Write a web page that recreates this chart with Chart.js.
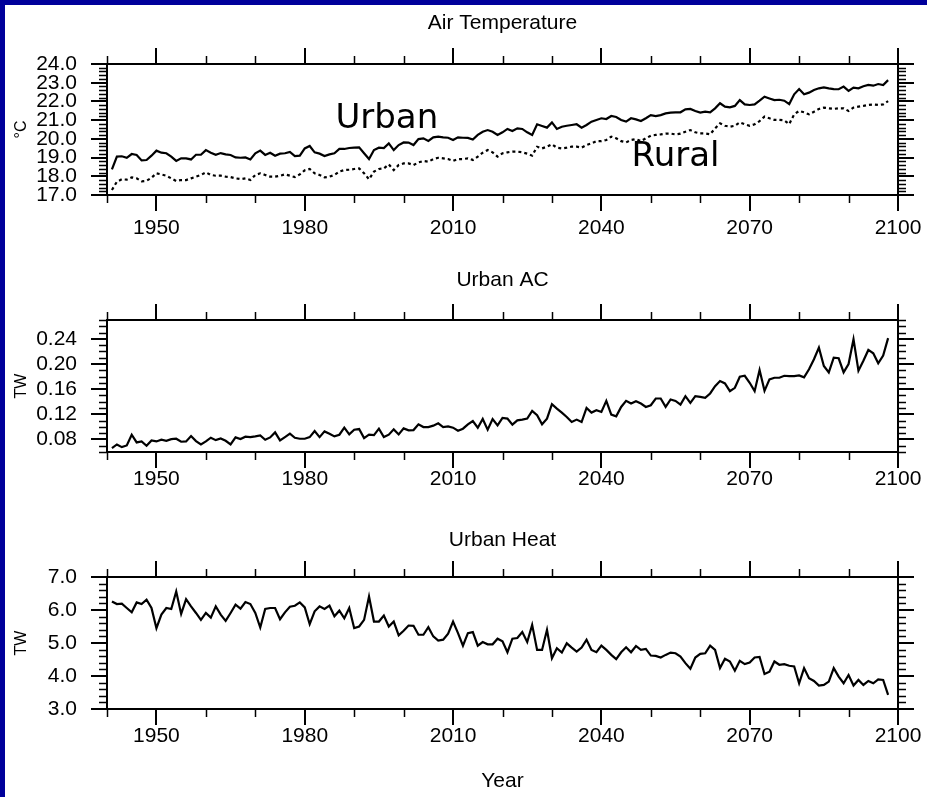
<!DOCTYPE html>
<html><head><meta charset="utf-8">
<script src="https://cdn.jsdelivr.net/npm/chart.js@4.4.1/dist/chart.umd.min.js"></script>
<style>
html,body{margin:0;padding:0;background:#fff;}
#page{position:relative;width:927px;height:797px;background:#fff;overflow:hidden;}
.bt{position:absolute;left:0;top:0;width:927px;height:5px;background:#00009B;}
.bl{position:absolute;left:0;top:0;width:5px;height:797px;background:#00009B;}
canvas{position:absolute;left:0;}
</style></head><body>
<div id="page"><div class="bt"></div><div class="bl"></div>
<canvas id="c1" width="927" height="260" style="top:0px"></canvas>
<canvas id="c2" width="927" height="257" style="top:260px"></canvas>
<canvas id="c3" width="927" height="280" style="top:517px"></canvas>
</div>
<script>
// ---------------- data ----------------
const YEARS = [1941,1942,1943,1944,1945,1946,1947,1948,1949,1950,
1951,1952,1953,1954,1955,1956,1957,1958,1959,1960,
1961,1962,1963,1964,1965,1966,1967,1968,1969,1970,
1971,1972,1973,1974,1975,1976,1977,1978,1979,1980,
1981,1982,1983,1984,1985,1986,1987,1988,1989,1990,
1991,1992,1993,1994,1995,1996,1997,1998,1999,2000,
2001,2002,2003,2004,2005,2006,2007,2008,2009,2010,
2011,2012,2013,2014,2015,2016,2017,2018,2019,2020,
2021,2022,2023,2024,2025,2026,2027,2028,2029,2030,
2031,2032,2033,2034,2035,2036,2037,2038,2039,2040,
2041,2042,2043,2044,2045,2046,2047,2048,2049,2050,
2051,2052,2053,2054,2055,2056,2057,2058,2059,2060,
2061,2062,2063,2064,2065,2066,2067,2068,2069,2070,
2071,2072,2073,2074,2075,2076,2077,2078,2079,2080,
2081,2082,2083,2084,2085,2086,2087,2088,2089,2090,
2091,2092,2093,2094,2095,2096,2097,2098];

const URBAN_TEMP = [18.37,19.05,19.07,18.99,19.19,19.14,18.85,18.87,19.10,19.37,
19.26,19.23,19.05,18.82,18.96,18.96,18.90,19.15,19.15,19.40,
19.26,19.15,19.24,19.17,19.14,19.01,18.99,19.01,18.90,19.23,
19.37,19.14,19.26,19.10,19.21,19.23,19.30,19.08,19.10,19.49,
19.62,19.28,19.21,19.08,19.17,19.23,19.46,19.46,19.51,19.53,
19.55,19.23,18.92,19.40,19.53,19.51,19.76,19.40,19.67,19.81,
19.80,19.67,19.99,20.03,19.89,20.08,20.12,20.08,20.06,19.94,
20.08,20.06,20.05,19.96,20.21,20.38,20.47,20.38,20.21,20.35,
20.53,20.42,20.56,20.53,20.35,20.21,20.78,20.69,20.60,20.88,
20.53,20.65,20.70,20.74,20.78,20.60,20.74,20.92,21.01,21.10,
21.06,21.22,21.17,21.01,20.92,21.10,21.04,20.95,21.10,21.27,
21.22,21.27,21.36,21.40,21.42,21.42,21.58,21.60,21.49,21.40,
21.45,21.42,21.63,21.90,21.72,21.68,21.76,22.07,21.84,21.81,
21.84,22.04,22.25,22.16,22.07,22.09,22.04,21.86,22.38,22.66,
22.38,22.47,22.61,22.70,22.75,22.70,22.66,22.65,22.79,22.56,
22.74,22.70,22.81,22.88,22.84,22.93,22.88,23.14];

const RURAL_TEMP = [17.27,17.71,17.84,17.82,17.94,17.89,17.73,17.76,17.92,18.16,
18.10,18.03,17.89,17.75,17.80,17.80,17.89,17.98,18.07,18.21,
18.07,18.03,18.03,17.98,17.96,17.89,17.85,17.89,17.80,18.07,
18.16,18.07,17.98,17.98,18.03,18.10,18.03,17.96,18.10,18.32,
18.39,18.16,18.07,17.94,17.98,18.07,18.25,18.33,18.35,18.39,
18.42,18.16,17.84,18.25,18.39,18.42,18.64,18.33,18.60,18.69,
18.69,18.60,18.74,18.82,18.78,18.92,18.99,18.96,18.92,18.82,
18.92,18.92,18.96,18.87,19.05,19.26,19.40,19.28,19.05,19.23,
19.28,19.32,19.32,19.28,19.21,19.10,19.58,19.49,19.58,19.71,
19.53,19.49,19.53,19.58,19.58,19.53,19.67,19.76,19.88,19.88,
19.94,20.12,20.03,19.88,19.81,19.94,19.99,19.88,20.03,20.17,
20.21,20.24,20.28,20.28,20.24,20.28,20.38,20.47,20.35,20.29,
20.29,20.24,20.56,20.83,20.70,20.65,20.70,20.88,20.78,20.70,
20.78,20.95,21.19,21.10,21.01,21.01,20.99,20.79,21.31,21.49,
21.42,21.31,21.45,21.60,21.67,21.63,21.60,21.63,21.63,21.49,
21.67,21.72,21.76,21.81,21.84,21.81,21.84,22.02];

const URBAN_AC = [0.0661,0.0720,0.0677,0.0704,0.0875,0.0752,0.0768,0.0699,0.0784,0.0768,
0.0795,0.0779,0.0805,0.0811,0.0763,0.0768,0.0853,0.0773,0.0720,0.0768,
0.0827,0.0789,0.0816,0.0779,0.0720,0.0832,0.0805,0.0843,0.0837,0.0848,
0.0864,0.0795,0.0832,0.0912,0.0784,0.0837,0.0891,0.0827,0.0811,0.0811,
0.0837,0.0933,0.0837,0.0928,0.0891,0.0848,0.0875,0.0987,0.0880,0.0955,
0.0965,0.0821,0.0875,0.0869,0.0971,0.0837,0.0875,0.0960,0.0880,0.0976,
0.0944,0.0949,0.1040,0.0997,0.0997,0.1019,0.1056,0.0997,0.1008,0.0987,
0.0939,0.0971,0.1040,0.1093,0.0987,0.1125,0.0955,0.1125,0.1024,0.1141,
0.1131,0.1035,0.1104,0.1115,0.1131,0.1253,0.1184,0.1040,0.1131,0.1360,
0.1291,0.1227,0.1157,0.1077,0.1115,0.1077,0.1301,0.1227,0.1264,0.1237,
0.1413,0.1195,0.1168,0.1317,0.1413,0.1371,0.1408,0.1371,0.1317,0.1344,
0.1451,0.1451,0.1317,0.1435,0.1413,0.1355,0.1488,0.1381,0.1488,0.1477,
0.1461,0.1531,0.1648,0.1728,0.1691,0.1568,0.1621,0.1797,0.1813,0.1701,
0.1568,0.1904,0.1573,0.1755,0.1781,0.1781,0.1813,0.1808,0.1808,0.1819,
0.1787,0.1915,0.2075,0.2261,0.1968,0.1867,0.2101,0.2091,0.1867,0.2000,
0.2395,0.1893,0.2053,0.2224,0.2171,0.2011,0.2133,0.2411];

const URBAN_HEAT = [6.26,6.18,6.19,6.06,5.93,6.23,6.18,6.31,6.06,5.45,
5.86,6.06,6.03,6.56,5.88,6.33,6.11,5.91,5.70,5.91,
5.77,6.11,5.86,5.67,5.91,6.16,6.04,6.24,6.18,5.91,
5.47,6.03,6.06,6.06,5.72,5.93,6.10,6.13,6.23,6.08,
5.57,5.96,6.11,6.03,6.13,5.81,5.98,5.75,6.06,5.45,
5.50,5.70,6.41,5.65,5.65,5.83,5.50,5.65,5.23,5.37,
5.53,5.52,5.25,5.25,5.48,5.20,5.07,5.10,5.28,5.65,
5.30,4.92,5.30,5.33,4.92,5.03,4.96,4.96,5.13,5.05,
4.72,5.13,5.15,5.33,5.03,5.55,4.79,4.79,5.40,4.54,
4.84,4.71,4.99,4.86,4.74,4.86,5.10,4.79,4.72,4.92,
4.79,4.64,4.51,4.72,4.87,4.72,4.91,4.79,4.82,4.62,
4.61,4.56,4.64,4.71,4.69,4.59,4.39,4.22,4.56,4.67,
4.69,4.92,4.79,4.24,4.52,4.44,4.16,4.46,4.36,4.41,
4.56,4.58,4.06,4.13,4.44,4.34,4.36,4.31,4.29,3.78,
4.24,3.93,3.85,3.71,3.73,3.83,4.24,3.98,3.78,4.03,
3.71,3.88,3.73,3.85,3.78,3.90,3.88,3.43];

// tick values
const X_TICKS = [1950,1980,2010,2040,2070,2100];
const X_MINOR = [1940,1960,1970,1990,2000,2020,2030,2050,2060,2080,2090];
const TEMP_TICKS = [17,18,19,20,21,22,23,24];
const AC_TICKS = [0.08,0.12,0.16,0.20,0.24];
const HEAT_TICKS = [3,4,5,6,7];

// text
const TITLES = ['Air Temperature','Urban AC','Urban Heat'];
const Y_TITLES = ['\u00B0C','TW','TW'];
const X_TITLE = 'Year';
const SERIES_NAMES = ['Urban','Rural'];

// ---------------- helpers ----------------
function minorRange(lo, hi, step, majors) {
  const out = [];
  const n = Math.round((hi - lo) / step);
  for (let i = 0; i <= n; i++) {
    const v = +(lo + i * step).toFixed(4);
    if (!majors.some(m => Math.abs(m - v) < step / 10)) out.push(v);
  }
  return out;
}

const FONT = '"Liberation Sans", Arial, Helvetica, sans-serif';
const INK = '#000';

const minorTicks = {
  id: 'minorTicks',
  afterDraw(chart, args, o) {
    const {ctx, chartArea: a, scales} = chart;
    ctx.save();
    ctx.strokeStyle = INK; ctx.lineWidth = 1.5;
    ctx.beginPath();
    (o.x || []).forEach(v => {
      const px = Math.round(scales.x.getPixelForValue(v)) + 0.5;
      ctx.moveTo(px, a.bottom); ctx.lineTo(px, a.bottom + o.len);
      ctx.moveTo(px, a.top); ctx.lineTo(px, a.top - o.len);
    });
    (o.y || []).forEach(v => {
      const py = Math.round(scales.y.getPixelForValue(v)) + 0.5;
      ctx.moveTo(a.left, py); ctx.lineTo(a.left - o.len, py);
      ctx.moveTo(a.right, py); ctx.lineTo(a.right + o.len, py);
    });
    ctx.stroke();
    ctx.restore();
  }
};

const textLabels = {
  id: 'textLabels',
  afterDatasetsDraw(chart, args, o) {
    if (!o.items) return;
    const {ctx, scales} = chart;
    ctx.save();
    ctx.font = o.font; ctx.fillStyle = INK;
    ctx.textAlign = 'center'; ctx.textBaseline = 'alphabetic';
    o.items.forEach(it => ctx.fillText(it.text, scales.x.getPixelForValue(it.x), scales.y.getPixelForValue(it.y)));
    ctx.restore();
  }
};

function axisCommon(extra) {
  return Object.assign({
    type: 'linear',
    grid: {display: true, drawOnChartArea: false, drawTicks: true, tickLength: 16, tickWidth: 2, tickColor: INK, color: INK, lineWidth: 2},
    border: {display: true, color: INK, width: 2}
  }, extra);
}

function makeChart(id, cfg) {
  const xTicks = a => { a.ticks = X_TICKS.map(v => ({value: v})); };
  const yTicks = a => { a.ticks = cfg.yTicks.map(v => ({value: v})); };
  return new Chart(document.getElementById(id), {
    type: 'line',
    data: {datasets: cfg.datasets},
    options: {
      responsive: false, animation: false, devicePixelRatio: 1,
      layout: {padding: 0},
      plugins: {
        legend: {display: false}, tooltip: {enabled: false}, title: {display: false},
        minorTicks: {x: X_MINOR, y: cfg.yMinor, len: 8},
        textLabels: cfg.labels || {}
      },
      elements: {point: {radius: 0}, line: {tension: 0}},
      scales: {
        x: axisCommon({
          position: 'bottom', min: 1940, max: 2100,
          afterBuildTicks: xTicks,
          afterFit: s => { s.height = cfg.bottomH; },
          ticks: {autoSkip: false, maxRotation: 0, minRotation: 0, color: INK, padding: cfg.xPad,
                  font: {family: FONT, size: 21}, callback: v => String(v)},
          title: cfg.xTitle ? {display: true, text: cfg.xTitle, color: INK,
                  font: {family: FONT, size: 21}, padding: {top: 0, bottom: cfg.xTitlePad}} : {display: false}
        }),
        x2: axisCommon({
          position: 'top', min: 1940, max: 2100,
          afterBuildTicks: xTicks,
          afterFit: s => { s.height = cfg.topH; },
          ticks: {display: false},
          title: {display: true, text: cfg.title, color: INK, font: {family: FONT, size: 21},
                  padding: {top: cfg.titlePad, bottom: 0}}
        }),
        y: axisCommon({
          position: 'left', min: cfg.yMin, max: cfg.yMax,
          afterBuildTicks: yTicks,
          afterFit: s => { s.width = 107; },
          ticks: {autoSkip: false, color: INK, padding: 14, font: {family: FONT, size: 21},
                  callback: v => v.toFixed(cfg.dec)},
          title: {display: true, text: cfg.yTitle, color: INK, font: {family: FONT, size: 16},
                  padding: {top: 12, bottom: 0}}
        }),
        y2: axisCommon({
          position: 'right', min: cfg.yMin, max: cfg.yMax,
          afterBuildTicks: yTicks,
          afterFit: s => { s.width = 29; },
          ticks: {display: false}
        })
      }
    },
    plugins: [minorTicks, textLabels]
  });
}

function pts(vals) { return YEARS.map((yr, i) => ({x: yr, y: vals[i]})); }

makeChart('c1', {
  title: TITLES[0], titlePad: 11, topH: 64, bottomH: 65, xPad: 5,
  yTitle: Y_TITLES[0], yMin: 17, yMax: 24, yTicks: TEMP_TICKS, dec: 1,
  yMinor: minorRange(17, 24, 0.2, TEMP_TICKS),
  datasets: [
    {label: SERIES_NAMES[0], data: pts(URBAN_TEMP), borderColor: INK, borderWidth: 2.2, pointRadius: 0},
    {label: SERIES_NAMES[1], data: pts(RURAL_TEMP), borderColor: INK, borderWidth: 2.2, pointRadius: 0, borderDash: [3, 3]}
  ],
  labels: {font: '34px "DejaVu Sans", sans-serif',
           items: [{text: SERIES_NAMES[0], x: 1996.6, y: 20.58}, {text: SERIES_NAMES[1], x: 2055.0, y: 18.55}]}
});

makeChart('c2', {
  title: TITLES[1], titlePad: 8, topH: 60, bottomH: 65, xPad: -1,
  yTitle: Y_TITLES[1], yMin: 0.06, yMax: 0.27, yTicks: AC_TICKS, dec: 2,
  yMinor: minorRange(0.06, 0.27, 0.01, AC_TICKS),
  datasets: [
    {label: TITLES[1], data: pts(URBAN_AC), borderColor: INK, borderWidth: 2.2, pointRadius: 0}
  ]
});

makeChart('c3', {
  title: TITLES[2], titlePad: 11, topH: 60, bottomH: 88, xPad: -1,
  xTitle: X_TITLE, xTitlePad: 3,
  yTitle: Y_TITLES[2], yMin: 3, yMax: 7, yTicks: HEAT_TICKS, dec: 1,
  yMinor: minorRange(3, 7, 0.2, HEAT_TICKS),
  datasets: [
    {label: TITLES[2], data: pts(URBAN_HEAT), borderColor: INK, borderWidth: 2.2, pointRadius: 0}
  ]
});
</script>
</body></html>
